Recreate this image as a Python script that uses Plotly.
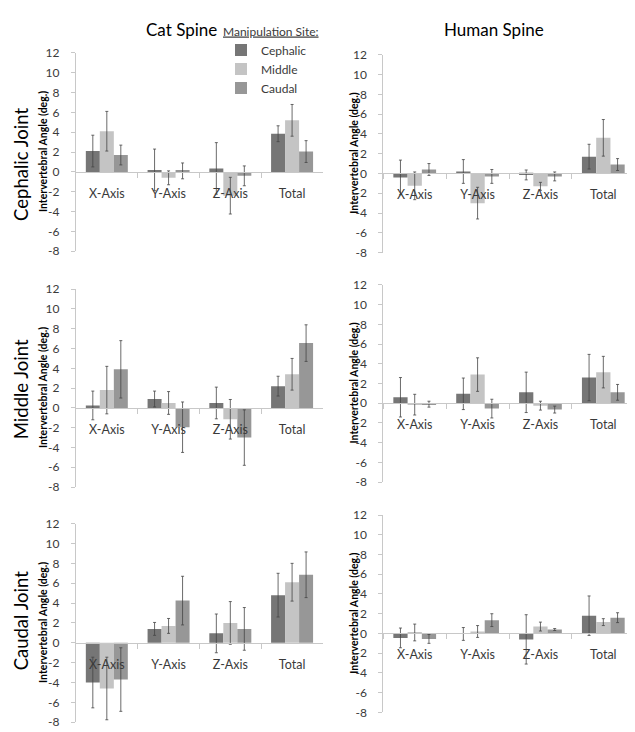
import plotly.graph_objects as go
from plotly.subplots import make_subplots

categories = ["X-Axis", "Y-Axis", "Z-Axis", "Total"]
sites = ["Cephalic", "Middle", "Caudal"]
site_colors = ["#767676", "#c4c4c4", "#979797"]
column_titles = ["Cat Spine", "Human Spine"]
row_titles = ["Cephalic Joint", "Middle Joint", "Caudal Joint"]
y_ticks = [-8, -6, -4, -2, 0, 2, 4, 6, 8, 10, 12]
y_tick_text = ["-8", "-6", "-4", "-2", "0", "2", "4", "6", "8", "10", "12"]
y_title = "Intervertebral Angle (deg.)"

# rows: manipulation site (Cephalic, Middle, Caudal); columns: categories
cat_cephalic_mean = [[2.1, 0.2, 0.35, 3.85], [4.1, -0.6, -2.4, 5.2], [1.7, 0.1, -0.4, 2.05]]
cat_cephalic_err = [[1.6, 2.1, 2.6, 0.8], [2.0, 0.7, 1.85, 1.6], [1.0, 0.8, 1.0, 1.1]]

human_cephalic_mean = [[-0.4, 0.2, -0.15, 1.7], [-1.25, -3.0, -1.3, 3.6], [0.4, -0.3, -0.3, 0.9]]
human_cephalic_err = [[1.75, 1.2, 0.5, 1.25], [1.4, 1.6, 0.4, 1.85], [0.6, 0.7, 0.45, 0.6]]

cat_middle_mean = [[0.25, 0.9, 0.5, 2.2], [1.8, 0.5, -1.15, 3.4], [3.9, -1.95, -3.0, 6.55]]
cat_middle_err = [[1.45, 0.8, 1.6, 1.0], [2.4, 1.15, 2.0, 1.6], [2.9, 2.55, 2.8, 1.85]]

human_middle_mean = [[0.6, 0.95, 1.1, 2.6], [-0.15, 2.9, -0.25, 3.15], [-0.1, -0.55, -0.65, 1.1]]
human_middle_err = [[2.0, 1.6, 2.05, 2.35], [1.05, 1.7, 0.45, 1.6], [0.3, 0.95, 0.35, 0.8]]

cat_caudal_mean = [[-4.0, 1.4, 0.95, 4.8], [-4.6, 1.7, 2.0, 6.1], [-3.7, 4.25, 1.4, 6.85]]
cat_caudal_err = [[2.55, 0.65, 1.95, 2.2], [3.15, 0.75, 2.15, 1.9], [3.2, 2.45, 2.15, 2.3]]

human_caudal_mean = [[-0.45, -0.05, -0.6, 1.8], [0.1, 0.2, 0.7, 1.15], [-0.55, 1.35, 0.4, 1.6]]
human_caudal_err = [[1.0, 0.65, 2.5, 2.0], [0.85, 0.6, 0.45, 0.35], [0.45, 0.65, 0.1, 0.5]]

panels = [
    (cat_cephalic_mean, cat_cephalic_err), (human_cephalic_mean, human_cephalic_err),
    (cat_middle_mean, cat_middle_err), (human_middle_mean, human_middle_err),
    (cat_caudal_mean, cat_caudal_err), (human_caudal_mean, human_caudal_err),
]

# layout geometry (paper fractions)
x_domains = [[0.107, 0.496], [0.591, 0.987]]
y_domains = [[0.672, 0.9485], [0.670, 0.946],
             [0.343, 0.619], [0.350, 0.625],
             [0.015, 0.292], [0.0287, 0.304]]

FONT = "Lato"
TXT = "#3a3a3a"

fig = make_subplots(rows=3, cols=2)

for i, (means, errs) in enumerate(panels):
    r, c = i // 2 + 1, i % 2 + 1
    for s in range(3):
        fig.add_trace(go.Bar(
            x=categories, y=means[s], name=sites[s],
            marker=dict(color=site_colors[s], line=dict(width=0)),
            error_y=dict(type="data", array=errs[s], color="#454545",
                         thickness=0.8, width=1.5),
            showlegend=(i == 0), legendgroup=sites[s],
        ), row=r, col=c)

for i in range(6):
    n = "" if i == 0 else str(i + 1)
    yd = y_domains[i]
    xd = x_domains[i % 2]
    zero_pos = yd[0] + (0 - (-8)) / 20 * (yd[1] - yd[0])
    fig.layout["xaxis" + n].update(
        domain=xd, anchor="free", position=zero_pos,
        showline=True, linecolor="#c8c8c8", linewidth=1,
        ticks="outside", tickson="boundaries", ticklen=5, tickcolor="#c8c8c8",
        ticklabelstandoff=10,
        tickfont=dict(family=FONT, size=12.5, color=TXT),
        showgrid=False, zeroline=False, fixedrange=True,
    )
    fig.layout["yaxis" + n].update(
        domain=yd, range=[-8, 12], tickvals=y_ticks, ticktext=y_tick_text,
        showline=True, linecolor="#c8c8c8", linewidth=1,
        ticks="outside", ticklen=4, tickcolor="#c8c8c8",
        ticklabelstandoff=9,
        tickfont=dict(family=FONT, size=12, color=TXT),
        showgrid=False, zeroline=False, fixedrange=True,
    )
    fig.add_annotation(
        text="<b>" + y_title + "</b>", textangle=-90,
        x=(35 / 635) if i % 2 == 0 else (346 / 635), xref="paper",
        y=(yd[0] + yd[1]) / 2, yref="paper",
        xanchor="center", yanchor="middle", showarrow=False,
        font=dict(family=FONT, size=10.5, color="#000000"),
    )

for j, t in enumerate(column_titles):
    fig.add_annotation(
        text=t, x=[173 / 635, 486 / 635][j], y=1 - 14 / 732,
        xref="paper", yref="paper", xanchor="center", yanchor="middle",
        showarrow=False, font=dict(family=FONT, size=17, color="#000000"),
    )

row_centers = [1 - 152 / 732, 1 - 381 / 732, 1 - 617 / 732]
for k, t in enumerate(row_titles):
    fig.add_annotation(
        text=t, textangle=-90, x=13 / 635, y=row_centers[k],
        xref="paper", yref="paper", xanchor="center", yanchor="middle",
        showarrow=False, font=dict(family=FONT, size=18.5, color="#000000"),
    )

fig.update_layout(
    width=635, height=732,
    margin=dict(l=0, r=0, t=0, b=0),
    paper_bgcolor="white", plot_bgcolor="white",
    barmode="group", bargap=0.32, bargroupgap=0,
    showlegend=True,
    legend=dict(
        x=213 / 635, y=1 - 4 / 732, xanchor="left", yanchor="top",
        title=dict(text="<u>Manipulation Site:</u>", side="top",
                   font=dict(family=FONT, size=12, color=TXT)),
        font=dict(family=FONT, size=12, color=TXT),
        bgcolor="rgba(0,0,0,0)", itemwidth=30, tracegroupgap=0,
    ),
    font=dict(family=FONT),
)

fig.write_html("out.html")
